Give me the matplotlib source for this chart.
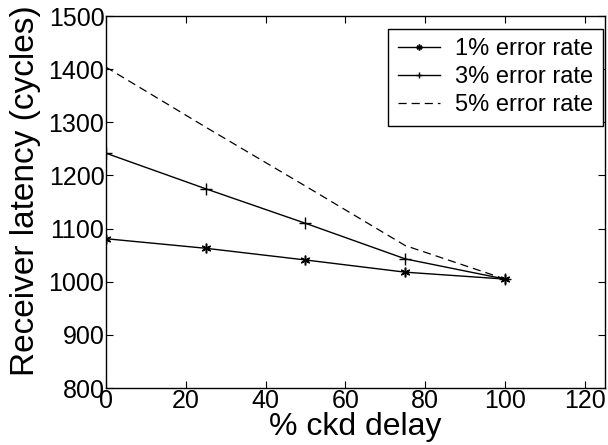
import matplotlib.pyplot as plt

plt.rcParams["font.family"] = ["Liberation Sans", "DejaVu Sans"]

# data
delay = [0, 25, 50, 75, 100]
err1 = [1081, 1063, 1041, 1018, 1005]
err3 = [1242, 1175, 1110, 1043, 1005]
err5 = [1404, 1291, 1180, 1068, 1005]

xticks = [0, 20, 40, 60, 80, 100, 120]
yticks = [800, 900, 1000, 1100, 1200, 1300, 1400, 1500]

fig = plt.figure(figsize=(6.08, 4.45), dpi=100)
ax = fig.add_axes([0.174, 0.128, 0.821, 0.836])

ax.plot(delay, err1, color="black", lw=1, marker=(6, 2, 0), ms=7, mew=1.1,
        label="1% error rate")
ax.plot(delay, err3, color="black", lw=1, marker="+", ms=8, mew=1,
        label="3% error rate")
ax.plot(delay, err5, color="black", lw=0.9, ls=(0, (6.5, 4)),
        label="5% error rate")

ax.set_xlim(0, 125)
ax.set_ylim(800, 1500)
ax.set_xticks(xticks)
ax.set_yticks(yticks)
ax.tick_params(direction="in", top=True, right=True, length=5,
               labelsize=18, pad=1)
for s in ax.spines.values():
    s.set_linewidth(1)

ax.set_xlabel("% ckd delay", fontsize=23)
ax.xaxis.set_label_coords(0.5, -0.064)
ax.set_ylabel("Receiver latency (cycles)", fontsize=24)
ax.yaxis.set_label_coords(-0.13, 0.53)

leg = ax.legend(loc="upper right", fontsize=17, frameon=True, fancybox=False,
                edgecolor="black", framealpha=1, handlelength=1.8,
                borderpad=0.4, labelspacing=0.25, handletextpad=0.65,
                borderaxespad=0, bbox_to_anchor=(0.996, 0.965),
                markerscale=0.6)
leg.get_frame().set_linewidth(1)

fig.savefig("out.png", dpi=100)
